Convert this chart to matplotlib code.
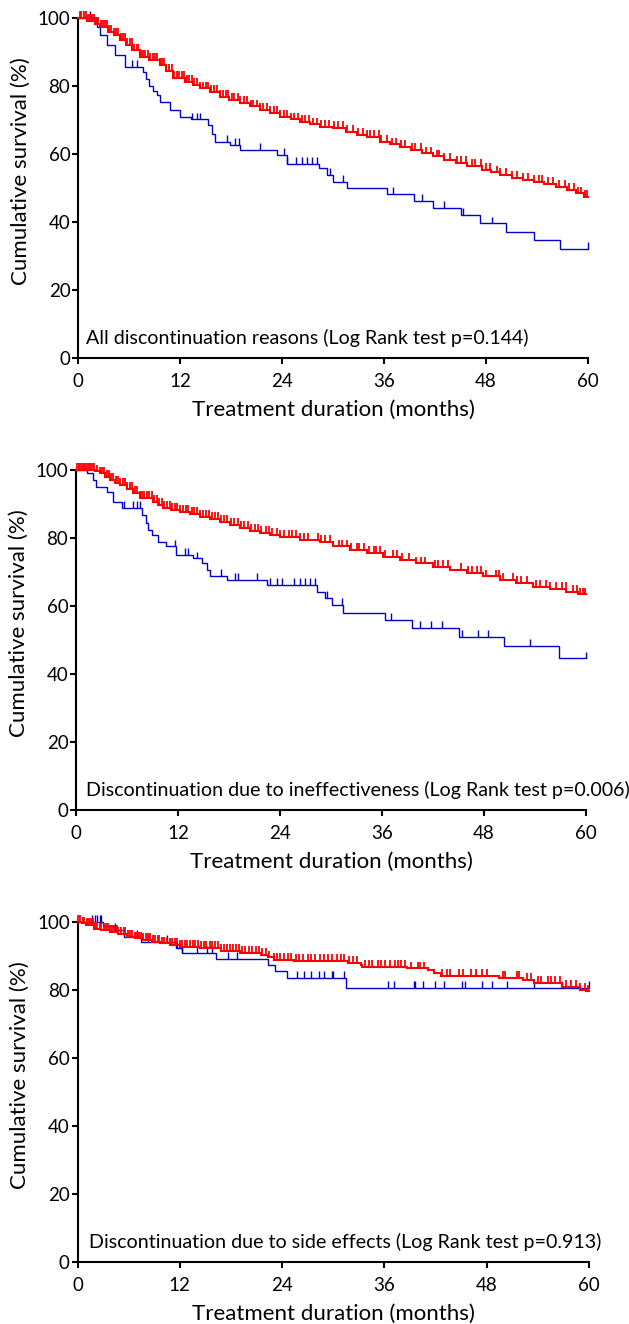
import numpy as np
import matplotlib
matplotlib.use("Agg")
import matplotlib.pyplot as plt

plt.rcParams['font.family'] = ['Lato', 'DejaVu Sans']

RED = '#ff0000'
BLUE = '#0000cc'

# ---------------- Panel 1: all discontinuation reasons ----------------
red1_t = [0, 1.0, 2.0, 2.6, 3.5, 4.2, 4.9, 5.6, 6.4, 7.3, 8.3, 9.6, 10.4, 11.2, 12.6, 13.5,
          14.4, 15.5, 16.7, 17.8, 19.0, 20.2, 21.4, 22.6, 23.8, 25.0, 26.1, 27.3, 28.5, 30.0,
          31.5, 32.8, 34.0, 35.5, 36.7, 37.9, 39.2, 40.5, 41.8, 43.0, 44.5, 45.8, 47.5, 48.6,
          49.6, 51.0, 52.3, 53.6, 54.8, 56.2, 57.5, 58.6, 59.5]
red1_s = [100, 99.2, 98.2, 97.4, 96.0, 95.0, 93.5, 92.2, 90.5, 88.6, 87.6, 86.2, 84.5, 82.3, 81.3, 80.3,
          79.3, 78.2, 76.9, 76.0, 75.0, 74.0, 73.0, 72.0, 71.0, 70.2, 69.5, 68.7, 68.0, 67.6,
          66.5, 65.7, 65.0, 63.6, 62.8, 62.1, 61.2, 60.2, 59.3, 58.3, 57.3, 56.4, 55.3, 54.6,
          53.8, 53.0, 52.5, 51.9, 51.2, 50.3, 49.4, 48.4, 47.5]
red1_c = [0.2, 0.4, 0.7, 0.9, 1.2, 1.4, 1.6, 1.9, 2.1, 2.4, 2.7, 2.9, 3.2, 3.4, 3.7, 3.9, 4.2, 4.5,
          4.7, 5.0, 5.3, 5.5, 5.8, 6.1, 6.3, 6.6, 6.9, 7.1, 7.4, 7.7, 7.9, 8.2, 8.5, 8.8, 9.0, 9.3,
          9.6, 9.9, 10.1, 10.4, 10.7, 11.0, 11.3, 11.6, 11.9, 12.2, 12.5, 12.8, 13.1, 13.4, 13.7,
          14.0, 14.4, 14.7, 15.0, 15.3, 15.7, 16.0, 16.3, 16.7, 17.0, 17.4, 17.7, 18.1, 18.4, 18.8,
          19.1, 19.5, 19.9, 20.3, 20.6, 21.0, 21.4, 21.8, 22.2, 22.6, 23.0, 23.4, 23.8, 24.2, 24.6,
          25.0, 25.4, 25.9, 26.3, 26.7, 27.2, 27.6, 28.1, 28.6, 29.0, 29.5, 30.1, 30.6, 31.2, 31.7,
          32.3, 32.9, 33.5, 34.0, 34.3, 34.8, 35.4, 35.7, 36.3, 36.9, 37.4, 38.0, 38.5, 39.3, 39.6,
          40.4, 40.9, 41.5, 42.2, 42.5, 43.1, 43.8, 44.6, 45.0, 45.7, 46.4, 46.7, 47.4, 48.0, 48.5,
          49.3, 49.7, 50.4, 51.1, 51.6, 52.3, 52.9, 53.7, 54.2, 54.6, 55.3, 55.9, 56.6, 57.3, 57.8,
          58.3, 58.8, 59.2, 59.6, 59.9]
blue1_t = [0, 2.2, 2.6, 3.4, 4.35, 5.5, 7.7, 8.0, 8.4, 8.8, 9.3, 9.6, 10.8, 12.0, 13.3, 15.3,
           15.8, 16.1, 17.9, 19.0, 23.4, 24.6, 28.3, 29.3, 30.0, 31.6, 36.3, 39.5, 41.8, 45.1,
           47.3, 50.4, 53.6, 56.7]
blue1_s = [100, 97.4, 95.0, 92.0, 89.0, 85.7, 84.0, 82.0, 80.0, 78.5, 77.4, 75.4, 73.0, 71.0, 70.2, 68.5,
           66.0, 63.6, 62.6, 61.2, 59.7, 57.2, 55.8, 53.8, 51.9, 50.1, 48.3, 46.3, 44.2, 42.0,
           39.6, 37.2, 34.7, 32.2]
blue1_c = [1.4, 6.3, 6.9, 13.4, 14.0, 14.4, 17.5, 18.5, 18.9, 21.4, 24.2, 24.6, 25.7, 26.3, 26.9,
           27.5, 28.1, 29.6, 31.2, 37.1, 40.5, 43.0, 45.3, 48.7, 60.0]

# ---------------- Panel 2: ineffectiveness ----------------
red2_t = [0, 2.2, 2.8, 3.4, 4.0, 4.6, 5.2, 6.0, 6.7, 7.5, 9.1, 9.6, 10.2, 11.2, 12.2, 13.4, 14.6,
          15.8, 16.9, 18.1, 19.3, 20.5, 21.6, 22.8, 24.0, 26.4, 28.7, 30.2, 32.2, 34.2, 36.1,
          38.1, 40.0, 42.0, 44.0, 46.0, 47.9, 49.9, 51.8, 53.8, 55.8, 57.7, 59.0]
red2_s = [100, 99.6, 99.0, 98.0, 97.0, 96.3, 95.6, 94.4, 93.2, 91.7, 90.7, 89.8, 88.8, 88.2, 87.7, 87.0, 86.3,
          85.5, 84.8, 83.8, 82.9, 82.1, 81.4, 80.9, 80.4, 79.5, 78.9, 77.5, 76.6, 75.6, 74.5,
          73.5, 72.5, 71.6, 70.7, 69.7, 68.7, 67.6, 66.7, 65.7, 65.0, 64.2, 63.4]
red2_c = [0.1, 0.3, 0.5, 0.7, 0.9, 1.1, 1.3, 1.5, 1.7, 1.9, 2.1, 2.5, 2.8, 3.1, 3.3, 3.6, 3.9, 4.1,
          4.4, 4.7, 4.9, 5.2, 5.5, 5.8, 6.0, 6.3, 6.6, 6.9, 7.2, 7.5, 7.8, 8.0, 8.3, 8.6, 8.9, 9.2,
          9.5, 9.8, 10.1, 10.4, 10.7, 11.0, 11.3, 11.6, 11.9, 12.2, 12.6, 12.9, 13.2, 13.6, 13.9,
          14.2, 14.6, 14.9, 15.3, 15.6, 16.0, 16.3, 16.7, 17.1, 17.4, 17.8, 18.2, 18.6, 19.0, 19.4,
          19.8, 20.2, 20.6, 21.0, 21.4, 21.8, 22.3, 22.7, 23.1, 23.6, 24.0, 24.5, 25.0, 25.4, 25.9,
          26.4, 26.8, 27.3, 28.5, 28.8, 29.3, 29.9, 30.9, 31.3, 31.9, 32.4, 33.0, 33.3, 33.9, 34.5,
          35.0, 35.3, 35.8, 36.3, 37.3, 37.8, 38.4, 39.2, 40.0, 40.6, 41.0, 42.2, 42.6, 43.2, 43.8,
          45.3, 46.1, 46.6, 47.2, 47.7, 48.2, 49.4, 49.8, 50.2, 51.4, 51.9, 52.4, 53.0, 54.1, 54.6,
          55.3, 55.8, 56.5, 57.2, 57.6, 58.5, 58.9, 59.3, 59.6, 59.9]
blue2_t = [0, 1.3, 2.0, 2.4, 3.6, 4.4, 5.4, 7.8, 8.2, 8.5, 8.9, 9.6, 10.6, 11.8, 13.8, 14.8, 15.4,
           15.8, 17.8, 22.5, 28.3, 29.3, 30.1, 31.4, 36.4, 39.5, 45.1, 50.4, 56.8]
blue2_s = [100, 99.0, 97.0, 95.1, 93.6, 90.7, 88.8, 86.8, 84.5, 82.4, 80.9, 78.9, 77.5, 75.0, 74.0, 72.5, 70.6,
           68.8, 67.6, 66.2, 64.2, 62.3, 60.3, 58.0, 55.9, 53.6, 51.0, 48.2, 44.6]
blue2_c = [5.6, 6.7, 7.2, 7.5, 11.6, 12.8, 13.2, 14.2, 17.1, 18.7, 19.1, 21.3, 22.8, 23.6, 24.2,
           25.6, 26.4, 26.9, 27.5, 28.1, 29.5, 31.3, 37.0, 40.5, 41.8, 43.0, 45.4, 47.3, 48.5, 53.4,
           60.0]

# ---------------- Panel 3: side effects ----------------
red3_t = [0, 0.5, 1.0, 1.9, 2.8, 3.8, 4.8, 5.8, 6.7, 7.7, 8.7, 9.7, 10.8, 12.0, 14.4, 16.8, 19.1,
          21.5, 22.3, 23.0, 25.4, 31.7, 33.2, 33.4, 38.7, 41.1, 41.8, 42.6, 49.5, 52.3, 53.6,
          56.8, 58.9, 59.6]
red3_s = [100, 99.5, 99.0, 98.0, 97.6, 97.1, 96.3, 95.6, 95.1, 94.6, 94.1, 93.6, 93.1, 92.6, 92.2, 91.5, 90.9,
          90.2, 89.5, 88.7, 88.5, 87.8, 87.3, 86.8, 86.3, 85.8, 85.0, 84.0, 83.4, 82.9, 82.1,
          80.8, 80.0, 79.5]
red3_c = [0.1, 0.3, 0.6, 0.8, 1.1, 1.3, 1.6, 1.8, 2.1, 2.3, 2.6, 2.8, 3.1, 3.3, 3.6, 3.8, 4.1, 4.3,
          4.6, 4.8, 5.1, 5.4, 5.6, 5.9, 6.1, 6.4, 6.7, 6.9, 7.2, 7.5, 7.7, 8.0, 8.3, 8.5, 8.8, 9.1,
          9.4, 9.6, 9.9, 10.2, 10.5, 10.8, 11.1, 11.4, 11.7, 12.0, 12.3, 12.6, 12.9, 13.2, 13.5,
          13.8, 14.1, 14.5, 14.8, 15.1, 15.5, 15.8, 16.1, 16.5, 16.8, 17.2, 17.5, 17.9, 18.2, 18.6,
          19.0, 19.3, 19.7, 20.1, 20.5, 20.9, 21.3, 21.7, 22.1, 22.5, 23.0, 23.4, 23.8, 24.2, 24.7,
          25.1, 25.6, 26.0, 26.5, 27.0, 27.4, 27.9, 28.4, 28.9, 29.4, 29.9, 30.4, 30.9, 31.3, 31.8,
          32.3, 32.8, 33.7, 34.2, 34.6, 35.2, 35.6, 36.1, 36.7, 37.3, 37.6, 38.0, 38.4, 39.1, 39.9,
          40.2, 40.7, 42.7, 43.3, 43.7, 44.8, 45.2, 46.2, 46.8, 47.4, 48.0, 49.9, 50.2, 51.5, 51.8,
          52.7, 53.2, 54.0, 54.4, 55.2, 55.6, 56.0, 56.6, 57.3, 57.9, 58.5, 59.0, 59.5, 59.9]
blue3_t = [0, 3.0, 4.4, 5.4, 7.4, 11.5, 12.2, 16.2, 22.4, 23.2, 24.6, 31.5]
blue3_s = [100, 98.6, 97.6, 95.6, 94.1, 92.2, 90.9, 89.0, 87.3, 85.4, 83.4, 80.5]
blue3_c = [1.7, 2.1, 2.3, 2.6, 2.8, 4.4, 7.0, 8.3, 10.5, 11.7, 12.3, 14.0, 15.2, 15.8, 17.6, 18.7,
           25.8, 26.6, 27.4, 28.3, 28.9, 29.9, 30.0, 31.3, 36.4, 37.1, 39.5, 39.6, 40.5, 41.9, 43.0,
           45.1, 45.4, 47.4, 48.6, 50.4, 53.6, 56.8, 60.0]

annotations = [
    "All discontinuation reasons (Log Rank test p=0.144)",
    "Discontinuation due to ineffectiveness (Log Rank test p=0.006)",
    "Discontinuation due to side effects (Log Rank test p=0.913)",
]
x_ticks = [0, 12, 24, 36, 48, 60]
y_ticks = [0, 20, 40, 60, 80, 100]
x_label = "Treatment duration (months)"
y_label = "Cumulative survival (%)"

panels = [
    (red1_t, red1_s, red1_c, blue1_t, blue1_s, blue1_c),
    (red2_t, red2_s, red2_c, blue2_t, blue2_s, blue2_c),
    (red3_t, red3_s, red3_c, blue3_t, blue3_s, blue3_c),
]

W, H = 629, 1324
fig = plt.figure(figsize=(W / 100, H / 100), dpi=100)
# axes boxes in pixels: (left, top(y=100), right, bottom(y=0))
boxes = [(78, 18, 588, 358), (76, 470, 586, 810), (77.5, 921.7, 589, 1262)]
ann_x = [0.95, 1.15, 1.35]


def km(ax, t, s, cens, color, lw, tlw, z):
    t = list(t) + [60]
    s = list(s) + [s[-1]]
    ax.step(t, s, where='post', color=color, lw=lw, clip_on=False, zorder=z,
            solid_joinstyle='miter')
    ta = np.array(t)
    sa = np.array(s)
    c = np.array(cens)
    idx = np.searchsorted(ta, c, side='right') - 1
    lev = sa[idx]
    ax.vlines(c, lev, lev + 2.0, color=color, lw=tlw, clip_on=False, zorder=z)


for i, ((rt, rs, rc, bt, bs, bc), (l, t, r, b)) in enumerate(zip(panels, boxes)):
    ax = fig.add_axes([l / W, 1 - b / H, (r - l) / W, (b - t) / H])
    km(ax, bt, bs, bc, BLUE, 1.0, 1.0, 3)
    km(ax, rt, rs, rc, RED, 1.5, 1.3, 4)
    ax.set_xlim(0, 60)
    ax.set_ylim(0, 100)
    ax.set_xticks(x_ticks)
    ax.set_yticks(y_ticks)
    for sp in ['top', 'right']:
        ax.spines[sp].set_visible(False)
    for sp in ['left', 'bottom']:
        ax.spines[sp].set_linewidth(1.5)
    ax.tick_params(axis='both', direction='out', length=4.5, width=1.5, labelsize=13.5)
    ax.tick_params(axis='y', pad=1)
    ax.tick_params(axis='x', pad=6)
    ax.set_xlabel(x_label, fontsize=16)
    ax.xaxis.set_label_coords(0.5, -0.152)
    ax.xaxis.label.set_va('center')
    ax.set_ylabel(y_label, fontsize=16)
    ax.yaxis.set_label_coords(-0.113, 0.55)
    ax.yaxis.label.set_va('center')
    ax.text(ann_x[i], 6.0, annotations[i], fontsize=14.1, va='center', ha='left')

fig.savefig("out.png", dpi=100)
